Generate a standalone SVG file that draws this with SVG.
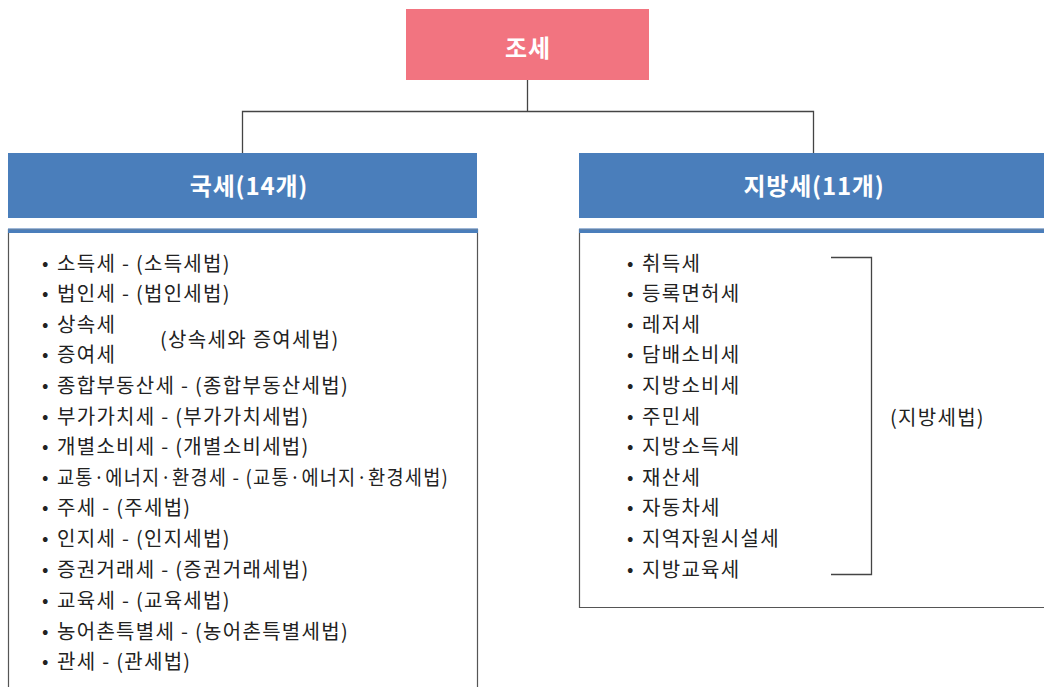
<svg xmlns="http://www.w3.org/2000/svg" width="1044" height="687" viewBox="0 0 1044 687">
<style>
text{font-family:"Noto Sans CJK KR","Noto Sans",sans-serif}
.hd{fill:#fff;font-size:24px;font-weight:bold;text-anchor:middle;letter-spacing:0.8px}
.it{fill:#222;font-size:20px;letter-spacing:1.3px}
.bl{font-size:19px;letter-spacing:0}
.conn{fill:none;stroke:#444;stroke-width:1.3}
.box{fill:#fff;stroke:#555;stroke-width:1.2}
.bar{fill:#4A7EBB}
</style>
<rect width="1044" height="687" fill="#fff"/>
<g id="connectors">
<path class="conn" d="M527.5 80V111.5M242.5 153V111.5H813.5V153"/>
</g>
<g id="root">
<rect x="406" y="9" width="243" height="71" fill="#F27480"/>
<text class="hd" x="528" y="57">조세</text>
</g>
<g id="national">
<rect class="bar" x="8" y="153" width="469" height="65"/>
<text class="hd" x="249" y="195">국세(14개)</text>
<path class="box" d="M8.5 700V229.5H477.5V700"/>
<rect x="8" y="228" width="470" height="1.5" fill="#9DB7D8"/>
<rect class="bar" x="8" y="229.5" width="470" height="3.5"/>
<g class="it">
<g class="bl">
<text x="42" y="270">•</text><text x="42" y="300">•</text><text x="42" y="331">•</text><text x="42" y="361">•</text>
<text x="42" y="392">•</text><text x="42" y="423">•</text><text x="42" y="453">•</text><text x="42" y="484">•</text>
<text x="42" y="514">•</text><text x="42" y="545">•</text><text x="42" y="576">•</text><text x="42" y="607">•</text>
<text x="42" y="638">•</text><text x="42" y="668">•</text>
</g>
<text x="57" y="271">소득세 - (소득세법)</text>
<text x="57" y="301">법인세 - (법인세법)</text>
<text x="57" y="332">상속세</text>
<text x="57" y="362">증여세</text>
<text x="160" y="347">(상속세와 증여세법)</text>
<text x="57" y="393">종합부동산세 - (종합부동산세법)</text>
<text x="57" y="424">부가가치세 - (부가가치세법)</text>
<text x="57" y="454">개별소비세 - (개별소비세법)</text>
<text x="57" y="485" textLength="392" lengthAdjust="spacingAndGlyphs">교통·에너지·환경세 - (교통·에너지·환경세법)</text>
<text x="57" y="515">주세 - (주세법)</text>
<text x="57" y="546">인지세 - (인지세법)</text>
<text x="57" y="577">증권거래세 - (증권거래세법)</text>
<text x="57" y="608">교육세 - (교육세법)</text>
<text x="57" y="639">농어촌특별세 - (농어촌특별세법)</text>
<text x="57" y="669">관세 - (관세법)</text>
</g>
</g>
<g id="local">
<rect class="bar" x="579" y="153" width="470" height="65"/>
<text class="hd" x="814" y="195">지방세(11개)</text>
<path class="box" d="M1050 607.5H579.5V229.5H1050"/>
<rect x="579" y="228" width="470" height="1.5" fill="#9DB7D8"/>
<rect class="bar" x="579" y="229.5" width="470" height="3.5"/>
<g class="it">
<g class="bl">
<text x="627" y="270">•</text><text x="627" y="300">•</text><text x="627" y="331">•</text><text x="627" y="361">•</text>
<text x="627" y="392">•</text><text x="627" y="423">•</text><text x="627" y="453">•</text><text x="627" y="484">•</text>
<text x="627" y="514">•</text><text x="627" y="545">•</text><text x="627" y="576">•</text>
</g>
<text x="642" y="271">취득세</text>
<text x="642" y="301">등록면허세</text>
<text x="642" y="332">레저세</text>
<text x="642" y="362">담배소비세</text>
<text x="642" y="393">지방소비세</text>
<text x="642" y="424">주민세</text>
<text x="642" y="454">지방소득세</text>
<text x="642" y="485">재산세</text>
<text x="642" y="515">자동차세</text>
<text x="642" y="546">지역자원시설세</text>
<text x="642" y="577">지방교육세</text>
<text x="890" y="425">(지방세법)</text>
</g>
<path class="conn" d="M831 257.5H871.5V574.5H831"/>
</g>
</svg>
